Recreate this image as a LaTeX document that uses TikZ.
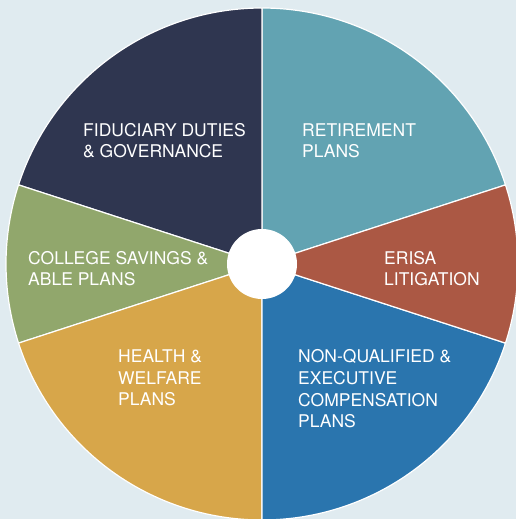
\documentclass[tikz,border=0pt]{standalone}
\usepackage{fontspec}
\setmainfont{TeX Gyre Heros}
\definecolor{bgc}{HTML}{E0EBF0}
\definecolor{fidc}{HTML}{2F3650}
\definecolor{retc}{HTML}{62A3B2}
\definecolor{erisac}{HTML}{AB5844}
\definecolor{nqc}{HTML}{2A75AE}
\definecolor{hwc}{HTML}{D7A64A}
\definecolor{colc}{HTML}{91A76C}
\tikzset{
  wedge/.style={fill=#1, draw=white, line width=1.2pt, line join=round},
  lbl/.style={text=white, align=left, anchor=base west, inner sep=0pt,
    font=\fontsize{17.5}{21.7}\selectfont}
}
\begin{document}
\begin{tikzpicture}[x=1pt,y=1pt]
\clip (0,0) rectangle (516,519);
\fill[bgc] (0,0) rectangle (516,519);
\coordinate (c) at (262,255);
\def\R{256}
\filldraw[wedge=retc] (c) -- ++(18:\R) arc[start angle=18, end angle=90, radius=\R] -- cycle;
\filldraw[wedge=fidc] (c) -- ++(90:\R) arc[start angle=90, end angle=162, radius=\R] -- cycle;
\filldraw[wedge=colc] (c) -- ++(162:\R) arc[start angle=162, end angle=198, radius=\R] -- cycle;
\filldraw[wedge=hwc] (c) -- ++(198:\R) arc[start angle=198, end angle=270, radius=\R] -- cycle;
\filldraw[wedge=nqc] (c) -- ++(270:\R) arc[start angle=270, end angle=342, radius=\R] -- cycle;
\filldraw[wedge=erisac] (c) -- ++(-18:\R) arc[start angle=-18, end angle=18, radius=\R] -- cycle;
\fill[white] (c) circle[radius=35];
\node[lbl] (fid) at (83,361) {FIDUCIARY DUTIES\\\& GOVERNANCE};
\node[lbl] (ret) at (302,361) {RETIREMENT\\PLANS};
\node[lbl] (col) at (28,233) {COLLEGE SAVINGS \&\\ABLE PLANS};
\node[lbl] (eri) at (384,233) {ERISA\\LITIGATION};
\node[lbl] (hw) at (118,113) {HEALTH \&\\WELFARE\\PLANS};
\node[lbl] (nq) at (298,91) {NON-QUALIFIED \&\\EXECUTIVE\\COMPENSATION\\PLANS};
\end{tikzpicture}
\end{document}
